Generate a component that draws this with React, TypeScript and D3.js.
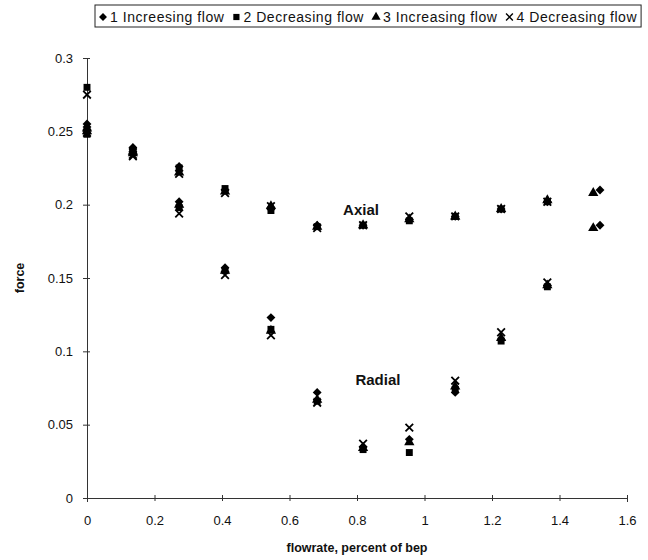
import React, { useEffect, useRef } from 'react';
import * as d3 from 'd3';

// flowrate (fraction of bep) for each measured point
const flowInc1 = [0, 0.136, 0.273, 0.409, 0.545, 0.682, 0.818, 0.955, 1.091, 1.227, 1.364, 1.52];
const flowInc3 = [0, 0.136, 0.273, 0.409, 0.545, 0.682, 0.818, 0.955, 1.091, 1.227, 1.364, 1.5];
const flowDec = [0, 0.136, 0.273, 0.409, 0.545, 0.682, 0.818, 0.955, 1.091, 1.227, 1.364];

// axial force per run
const axial1 = [0.255, 0.239, 0.226, 0.21, 0.198, 0.186, 0.186, 0.19, 0.192, 0.197, 0.202, 0.21];
const axial2 = [0.28, 0.237, 0.225, 0.211, 0.196, 0.185, 0.186, 0.189, 0.192, 0.197, 0.202];
const axial3 = [0.252, 0.236, 0.222, 0.209, 0.199, 0.185, 0.186, 0.19, 0.192, 0.197, 0.203, 0.208];
const axial4 = [0.275, 0.234, 0.221, 0.208, 0.199, 0.184, 0.186, 0.192, 0.192, 0.197, 0.202];

// radial force per run
const radial1 = [0.253, 0.238, 0.202, 0.157, 0.123, 0.072, 0.035, 0.04, 0.072, 0.108, 0.145, 0.186];
const radial2 = [0.248, 0.236, 0.198, 0.155, 0.115, 0.066, 0.033, 0.031, 0.074, 0.107, 0.144];
const radial3 = [0.25, 0.235, 0.2, 0.155, 0.114, 0.067, 0.034, 0.038, 0.076, 0.109, 0.145, 0.184];
const radial4 = [0.249, 0.233, 0.194, 0.152, 0.111, 0.065, 0.037, 0.048, 0.08, 0.113, 0.147];

const seriesNames = ['1 Increesing flow', '2 Decreasing flow', '3 Increasing flow', '4 Decreasing flow'];

const xTicks = [0, 0.2, 0.4, 0.6, 0.8, 1, 1.2, 1.4, 1.6];
const yTicks = [0, 0.05, 0.1, 0.15, 0.2, 0.25, 0.3];

const diamond = (d3 as any).symbolDiamond2 || d3.symbolDiamond;

const series = [
  { name: seriesNames[0], x: flowInc1, axial: axial1, radial: radial1, symbol: diamond, size: 50 },
  { name: seriesNames[1], x: flowDec, axial: axial2, radial: radial2, symbol: d3.symbolSquare, size: 48 },
  { name: seriesNames[2], x: flowInc3, axial: axial3, radial: radial3, symbol: d3.symbolTriangle, size: 46 },
  { name: seriesNames[3], x: flowDec, axial: axial4, radial: radial4, symbol: d3.symbolTimes, size: 40 },
];

function drawChart(node: SVGSVGElement) {
  const width = 648;
  const height = 560;
  const marginLeft = 87;
  const marginRight = 21;
  const marginTop = 58;
  const marginBottom = 62;
  const font = 'Arial, "Liberation Sans", Helvetica, sans-serif';

  const svg = d3.select(node);
  svg.selectAll('*').remove();
  svg.attr('font-family', font);

  const x = d3.scaleLinear([0, 1.6], [marginLeft, width - marginRight]);
  const y = d3.scaleLinear([0, 0.3], [height - marginBottom, marginTop]);

  // y axis
  const yAxis = d3
    .axisLeft(y)
    .tickValues(yTicks)
    .tickSizeOuter(0)
    .tickSize(4)
    .tickPadding(10)
    .tickFormat((d) => String(d));
  svg
    .append('g')
    .attr('transform', `translate(${marginLeft},0)`)
    .call(yAxis)
    .call((g) => g.select('.domain').attr('stroke', '#333'))
    .call((g) => g.selectAll('.tick line').attr('x2', 3).attr('x1', -4).attr('stroke', '#333'))
    .call((g) => g.selectAll('.tick text').attr('font-size', 13).attr('fill', '#111').attr('font-family', font));

  // x axis
  const xAxis = d3
    .axisBottom(x)
    .tickValues(xTicks)
    .tickSizeOuter(0)
    .tickSize(4)
    .tickPadding(14)
    .tickFormat((d) => String(d));
  svg
    .append('g')
    .attr('transform', `translate(0,${height - marginBottom})`)
    .call(xAxis)
    .call((g) => g.select('.domain').attr('stroke', '#333'))
    .call((g) => g.selectAll('.tick line').attr('y1', -3).attr('y2', 3).attr('stroke', '#333'))
    .call((g) => g.selectAll('.tick text').attr('font-size', 13).attr('fill', '#111').attr('font-family', font));

  // axis titles
  svg
    .append('text')
    .attr('x', (marginLeft + width - marginRight) / 2)
    .attr('y', 552)
    .attr('text-anchor', 'middle')
    .attr('font-size', 12.5)
    .attr('font-weight', 'bold')
    .attr('fill', '#111')
    .text('flowrate, percent of bep');

  svg
    .append('text')
    .attr('transform', `translate(24,${(marginTop + height - marginBottom) / 2}) rotate(-90)`)
    .attr('text-anchor', 'middle')
    .attr('font-size', 12.5)
    .attr('font-weight', 'bold')
    .attr('fill', '#111')
    .text('force');

  // points
  series.forEach((s) => {
    const sym = d3.symbol(s.symbol, s.size);
    const isStroke = s.symbol === d3.symbolTimes;
    const pts = [
      ...s.x.map((v, i) => [v, s.axial[i]]),
      ...s.x.map((v, i) => [v, s.radial[i]]),
    ];
    svg
      .append('g')
      .selectAll('path')
      .data(pts)
      .join('path')
      .attr('transform', (d) => `translate(${x(d[0])},${y(d[1])})`)
      .attr('d', sym())
      .attr('fill', isStroke ? 'none' : '#000')
      .attr('stroke', isStroke ? '#000' : 'none')
      .attr('stroke-width', isStroke ? 1.8 : 0);
  });

  // branch labels
  svg
    .append('text')
    .attr('x', x(0.812))
    .attr('y', y(0.193))
    .attr('text-anchor', 'middle')
    .attr('font-size', 15)
    .attr('font-weight', 'bold')
    .attr('fill', '#111')
    .text('Axial');
  svg
    .append('text')
    .attr('x', x(0.862))
    .attr('y', y(0.077))
    .attr('text-anchor', 'middle')
    .attr('font-size', 15)
    .attr('font-weight', 'bold')
    .attr('fill', '#111')
    .text('Radial');

  // legend
  const legend = svg.append('g').attr('transform', 'translate(95,5)');
  const box = legend
    .append('rect')
    .attr('height', 22)
    .attr('fill', '#fff')
    .attr('stroke', '#222')
    .attr('stroke-width', 1);
  let cx = 8;
  series.forEach((s, i) => {
    const isStroke = s.symbol === d3.symbolTimes;
    legend
      .append('path')
      .attr('transform', `translate(${cx},12)`)
      .attr('d', d3.symbol(s.symbol, s.size * 0.8)())
      .attr('fill', isStroke ? 'none' : '#000')
      .attr('stroke', isStroke ? '#000' : 'none')
      .attr('stroke-width', isStroke ? 1.4 : 0);
    const t = legend
      .append('text')
      .attr('x', cx + 7)
      .attr('y', 16.5)
      .attr('font-size', 14)
      .attr('letter-spacing', 0.55)
      .attr('fill', '#111')
      .text(s.name);
    const w = (t.node() as SVGTextElement).getComputedTextLength();
    cx += 7 + w + (i < series.length - 1 ? 12 : 0);
  });
  box.attr('width', cx + 4);
}

export default function App() {
  const ref = useRef<SVGSVGElement>(null);

  useEffect(() => {
    document.body.style.margin = '0';
    if (ref.current) drawChart(ref.current);
  }, []);

  return <svg ref={ref} width={648} height={560} style={{ display: 'block', background: '#fff' }} />;
}
